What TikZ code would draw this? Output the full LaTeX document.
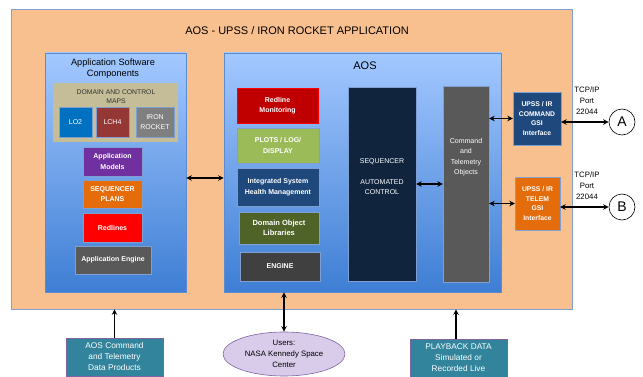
\documentclass[tikz,border=0pt]{standalone}
\usepackage{fontspec}
\setmainfont{Liberation Sans}
\usetikzlibrary{arrows.meta,calc,shapes.geometric}
\definecolor{orangebg}{HTML}{F9C08F}
\definecolor{bluetop}{HTML}{A3C8FF}
\definecolor{bluebot}{HTML}{3E7ED4}
\definecolor{blueedge}{HTML}{5B8BD0}
\definecolor{tan}{HTML}{C4BD97}
\definecolor{lotwo}{HTML}{0070C0}
\definecolor{lchfour}{HTML}{953735}
\definecolor{irongray}{HTML}{7F7F7F}
\definecolor{purp}{HTML}{7030A0}
\definecolor{orng}{HTML}{E46C0A}
\definecolor{redd}{HTML}{FF0000}
\definecolor{dgray}{HTML}{595959}
\definecolor{darkred}{HTML}{C00000}
\definecolor{lgreen}{HTML}{9BBB59}
\definecolor{navy}{HTML}{1F497D}
\definecolor{olive}{HTML}{4F6228}
\definecolor{ddgray}{HTML}{404040}
\definecolor{seqblue}{HTML}{10243E}
\definecolor{teal}{HTML}{31849B}
\definecolor{lilac}{HTML}{D9CCEB}
\definecolor{lilacedge}{HTML}{8064A2}
\definecolor{boxedge}{HTML}{7F9FD0}
\tikzset{
  every node/.style={inner sep=1pt, align=center},
  container/.style={draw=blueedge, line width=0.6pt, top color=bluetop, bottom color=bluebot},
  sbox/.style={draw=boxedge, line width=0.4pt, text=white, font=\fontsize{7}{10.5}\selectfont\bfseries},
  plainbox/.style={draw=boxedge, line width=0.4pt, text=white, font=\fontsize{7}{10.5}\selectfont},
  lbl/.style={text=white, font=\fontsize{7}{10.5}\selectfont},
  bbox/.style={draw=lilacedge, line width=0.8pt, fill=teal, text=white, font=\fontsize{8.3}{11}\selectfont, minimum width=97pt, minimum height=38pt},
  link/.style={line width=1.5pt, {Stealth[length=5.5pt,width=5.5pt]}-{Stealth[length=5.5pt,width=5.5pt]}},
  uplink/.style={line width=1.5pt, -{Stealth[length=5.5pt,width=5.5pt]}},
  tcp/.style={font=\fontsize{7.8}{11}\selectfont}
}
\begin{document}
\begin{tikzpicture}[x=1pt,y=-1pt]
\useasboundingbox (0,0) rectangle (643,377);
\fill[white] (0,0) rectangle (643,377);
% outer
\node[draw=boxedge, line width=0.6pt, fill=orangebg, minimum width=561pt, minimum height=300pt] (outer) at (291.5,159) {};
\node[font=\fontsize{11}{13}\selectfont] (title) at (297,31) {AOS - UPSS / IRON ROCKET APPLICATION};
% left container
\node[container, minimum width=141pt, minimum height=239pt] (left) at (115.5,172.5) {};
\node[font=\fontsize{9.2}{11}\selectfont] (lefttitle) at (113,68.5) {Application Software\\Components};
\node[fill=tan, minimum width=125pt, minimum height=59pt] (domain) at (115.5,112.5) {};
\node[font=\fontsize{6.8}{9}\selectfont, text=black!80] (domaintxt) at (116,96.5) {DOMAIN AND CONTROL\\MAPS};
\node[plainbox, fill=lotwo, minimum width=33pt, minimum height=30pt] (lo2) at (75.5,122) {LO2};
\node[plainbox, fill=lchfour, minimum width=33pt, minimum height=30pt] (lch4) at (112.5,122) {LCH4};
\node[plainbox, fill=irongray, minimum width=38pt, minimum height=30pt] (iron) at (155,122) {IRON\\ROCKET};
\node[sbox, fill=purp, minimum width=59pt, minimum height=29pt] (models) at (112.5,161.5) {Application\\Models};
\node[sbox, fill=orng, minimum width=59pt, minimum height=28pt] (plans) at (112.5,194) {SEQUENCER\\PLANS};
\node[sbox, fill=redd, minimum width=59pt, minimum height=29pt] (redlines) at (112.5,227.5) {Redlines};
\node[sbox, fill=dgray, minimum width=76pt, minimum height=28pt] (appengine) at (113,260) {Application Engine};
% AOS container
\node[container, minimum width=277pt, minimum height=239pt] (aos) at (362.5,172.5) {};
\node[font=\fontsize{11}{13}\selectfont] (aostitle) at (365,66) {AOS};
\node[sbox, draw=red, fill=darkred, minimum width=81pt, minimum height=35pt] (redmon) at (277.5,105.5) {Redline\\Monitoring};
\node[sbox, fill=lgreen, minimum width=82pt, minimum height=35pt] (plots) at (278,145.5) {PLOTS / LOG/\\DISPLAY};
\node[sbox, fill=navy, minimum width=82pt, minimum height=38pt] (ishm) at (278,187) {Integrated System\\Health Management};
\node[sbox, fill=olive, minimum width=80pt, minimum height=32pt, font=\fontsize{7.5}{10.5}\selectfont\bfseries] (dol) at (279,228) {Domain Object\\Libraries};
\node[sbox, fill=ddgray, minimum width=80pt, minimum height=29pt] (engine) at (280,266.5) {ENGINE};
\node[sbox, fill=seqblue, minimum width=68pt, minimum height=194pt] (seq) at (382,184) {};
\node[lbl] (seqtxt) at (382,177) {SEQUENCER\\[10pt]AUTOMATED\\CONTROL};
\node[sbox, fill=dgray, minimum width=46pt, minimum height=196pt] (cto) at (466,184) {};
\node[lbl] (ctotxt) at (466,157) {Command\\and\\Telemetry\\Objects};
% interfaces
\node[sbox, fill=navy, minimum width=48pt, minimum height=53pt, font=\fontsize{6.8}{9.5}\selectfont\bfseries] (cmdgsi) at (537,118.5) {UPSS / IR\\COMMAND\\GSI\\Interface};
\node[sbox, fill=orng, minimum width=45pt, minimum height=53pt, font=\fontsize{6.8}{9.5}\selectfont\bfseries] (telgsi) at (537.5,203.5) {UPSS / IR\\TELEM\\GSI\\Interface};
\node[circle, draw=black, line width=0.6pt, fill=white, minimum size=26pt, font=\fontsize{14}{16}\selectfont] (A) at (622,122) {A};
\node[circle, draw=black, line width=0.6pt, fill=white, minimum size=26pt, font=\fontsize{14}{16}\selectfont] (B) at (622,207) {B};
\node[tcp] (tcpA) at (587,101) {TCP/IP\\Port\\22044};
\node[tcp] (tcpB) at (587,186) {TCP/IP\\Port\\22044};
% bottom
\node[bbox] (prod) at (114.5,357) {AOS Command\\and Telemetry\\Data Products};
\node[ellipse, draw=lilacedge, line width=0.6pt, fill=lilac, minimum width=122pt, minimum height=44pt, inner sep=0pt, font=\fontsize{7.8}{11}\selectfont] (users) at (284,354) {Users:\\NASA Kennedy Space\\Center};
\node[bbox] (playback) at (458.5,358) {PLAYBACK DATA\\Simulated or\\Recorded Live};
% connectors
\draw[link] ($(left.east)+(0,5.5)$) -- ($(aos.west)+(0,5.5)$);
\draw[link] (seq.east) -- (cto.west);
\draw[link] (cto.east |- cmdgsi) -- (cmdgsi.west);
\draw[link] (cto.east |- telgsi) -- (telgsi.west);
\draw[link] (cmdgsi.east |- A) -- (A.west);
\draw[link] (telgsi.east |- B) -- (B.west);
\draw[uplink] (prod.north) -- (prod.north |- outer.south);
\draw[link] (users.north) -- (users.north |- aos.south);
\draw[uplink] ([xshift=-2.5pt]playback.north) -- ([xshift=-2.5pt]playback.north |- outer.south);
\end{tikzpicture}
\end{document}
